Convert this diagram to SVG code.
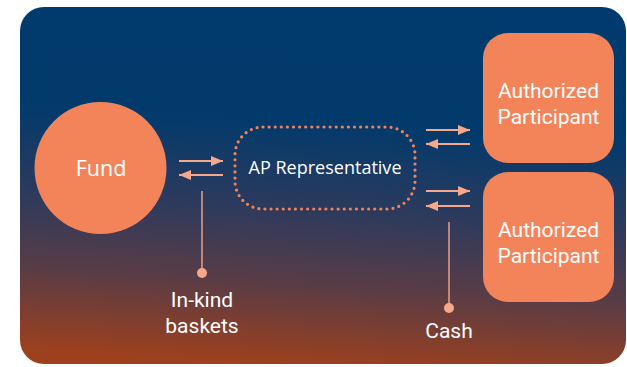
<svg xmlns="http://www.w3.org/2000/svg" width="627" height="367" viewBox="0 0 627 367">
<defs>
<linearGradient id="bg" x1="0.55" y1="0" x2="0.45" y2="1">
<stop offset="0" stop-color="#013a6e"/>
<stop offset="0.33" stop-color="#033a6c"/>
<stop offset="0.58" stop-color="#2f3a5c"/>
<stop offset="0.78" stop-color="#5a3c45"/>
<stop offset="1" stop-color="#9c401e"/>
</linearGradient>
<marker id="ah" viewBox="0 0 12 10" refX="12" refY="5" markerWidth="12" markerHeight="10" markerUnits="userSpaceOnUse" orient="auto">
<path d="M0,0 L12,5 L0,10 Z" fill="#f7a88a"/>
</marker>
<style>
.node{fill:#f3845a}
.lbl{fill:#ffffff;font-family:Roboto,"Liberation Sans",sans-serif;text-anchor:middle;font-weight:400}
.hum{fill:#ffffff;font-family:"Open Sans","Noto Sans",sans-serif;text-anchor:middle}
.arr{stroke:#f7a88a;stroke-width:2;fill:none;marker-end:url(#ah)}
.lead{stroke:#e7a08a;stroke-width:1.5;fill:none}
.dot{fill:#f7a88a}
</style>
</defs>
<rect x="20" y="7" width="606" height="357" rx="24" fill="url(#bg)"/>
<g id="fund">
<circle class="node" cx="100.5" cy="168" r="66"/>
<text class="hum" x="101" y="176" font-size="21.5">Fund</text>
</g>
<g id="ap-rep">
<rect x="235" y="127" width="180" height="82" rx="28" fill="none" stroke="#f3845a" stroke-width="3.2" stroke-linecap="round" stroke-dasharray="0 6.1"/>
<text class="hum" x="325" y="174" font-size="18" textLength="153" lengthAdjust="spacingAndGlyphs">AP Representative</text>
</g>
<g id="ap1">
<rect class="node" x="483" y="33" width="131" height="130" rx="25"/>
<text class="lbl" x="548.5" y="98" font-size="21">Authorized</text>
<text class="lbl" x="548.5" y="124" font-size="21">Participant</text>
</g>
<g id="ap2">
<rect class="node" x="483" y="172" width="131" height="130" rx="25"/>
<text class="lbl" x="548.5" y="237" font-size="21">Authorized</text>
<text class="lbl" x="548.5" y="263" font-size="21">Participant</text>
</g>
<g id="in-kind">
<text class="lbl" x="202" y="307" font-size="21">In-kind</text>
<text class="lbl" x="202" y="333" font-size="21">baskets</text>
</g>
<g id="cash">
<text class="lbl" x="449" y="338" font-size="21">Cash</text>
</g>
<g id="connectors">
<line class="arr" x1="179" y1="161" x2="223" y2="161"/>
<line class="arr" x1="223" y1="175" x2="179" y2="175"/>
<line class="arr" x1="426" y1="130" x2="470" y2="130"/>
<line class="arr" x1="470" y1="144" x2="426" y2="144"/>
<line class="arr" x1="426" y1="191" x2="470" y2="191"/>
<line class="arr" x1="470" y1="206" x2="426" y2="206"/>
<line class="lead" x1="202" y1="191" x2="202" y2="272"/>
<circle class="dot" cx="202" cy="273" r="5"/>
<line class="lead" x1="449" y1="222" x2="449" y2="307"/>
<circle class="dot" cx="449" cy="308" r="5"/>
</g>
</svg>
